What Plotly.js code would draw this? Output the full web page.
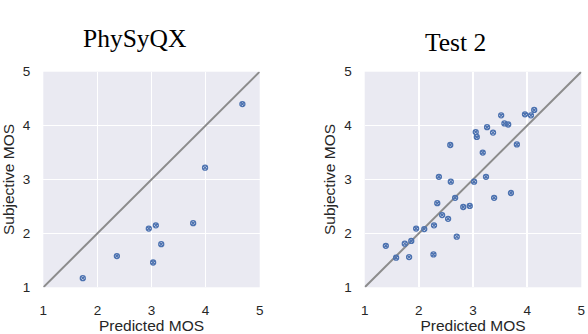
<!DOCTYPE html>
<html>
<head>
<meta charset="utf-8">
<script src="https://cdn.plot.ly/plotly-3.0.1.min.js"></script>
<style>html,body{margin:0;padding:0;background:#fff;}#chart{width:588px;height:334px;}</style>
</head>
<body>
<div id="chart"></div>
<script>
// Panel titles
const panelTitles = ["PhySyQX", "Test 2"];
// PhySyQX: predicted vs subjective MOS
const physyPred = [1.73, 2.36, 2.95, 3.08, 3.18, 3.03, 3.77, 3.99, 4.68];
const physySubj = [1.17, 1.58, 2.09, 2.15, 1.80, 1.46, 2.19, 3.22, 4.40];
// Test 2: predicted vs subjective MOS
const test2Pred = [1.39, 1.58, 1.74, 1.86, 1.82, 1.95, 2.10, 2.27, 2.28, 2.34, 2.37, 2.43, 2.54, 2.58, 2.59, 2.67, 2.70, 2.82, 2.94, 3.02, 3.05, 3.07, 3.18, 3.24, 3.26, 3.37, 3.39, 3.52, 3.58, 3.65, 3.70, 3.81, 3.96, 4.07, 4.13];
const test2Subj = [1.77, 1.55, 1.81, 1.86, 1.56, 2.09, 2.08, 1.61, 2.15, 2.56, 3.05, 2.34, 2.27, 3.64, 2.96, 2.66, 1.94, 2.49, 2.51, 2.96, 3.88, 3.79, 3.50, 3.05, 3.97, 3.87, 2.66, 4.19, 4.04, 4.02, 2.75, 3.65, 4.21, 4.19, 4.29];
// Identity line and ticks
const identityLine = [1, 5];
const tickVals = [1, 2, 3, 4, 5];
const tickText = ["1", "2", "3", "4", "5"];
const xTitle = "Predicted MOS";
const yTitle = "Subjective MOS";

const pointColor = "#4c72b0";
const lineColor = "#8c8c8c";

function lineTrace(xa, ya) {
  return {x: identityLine, y: identityLine, xaxis: xa, yaxis: ya, mode: "lines",
    line: {color: lineColor, width: 2}, hoverinfo: "skip", showlegend: false};
}
function pointTrace(xs, ys, xa, ya) {
  return {x: xs, y: ys, xaxis: xa, yaxis: ya, mode: "markers", type: "scatter",
    marker: {symbol: "circle-x-open", size: 5, color: pointColor, line: {width: 1.3, color: pointColor}},
    showlegend: false};
}

const data = [
  lineTrace("x", "y"), pointTrace(physyPred, physySubj, "x", "y"),
  lineTrace("x2", "y2"), pointTrace(test2Pred, test2Subj, "x2", "y2")
];

const tickFont = {family: "Liberation Sans, Arial, sans-serif", size: 13.5, color: "#262626"};
const titleFont = {family: "Liberation Sans, Arial, sans-serif", size: 15.5, color: "#262626"};

function xAxis(domain, anchor) {
  return {domain: domain, anchor: anchor, range: [1, 5], tickvals: tickVals, ticktext: tickText,
    showgrid: true, gridcolor: "#ffffff", gridwidth: 1.5, zeroline: false, showline: false,
    ticks: "", tickfont: tickFont, ticklabelstandoff: 13,
    title: {text: xTitle, font: titleFont, standoff: 0}, fixedrange: true};
}
function yAxis(domain, anchor) {
  return {domain: domain, anchor: anchor, range: [1, 5], tickvals: tickVals, ticktext: tickText,
    showgrid: true, gridcolor: "#ffffff", gridwidth: 1.5, zeroline: false, showline: false,
    ticks: "", tickfont: tickFont, ticklabelstandoff: 12,
    title: {text: yTitle, font: titleFont, standoff: 4}, fixedrange: true};
}

const yDom = [1 - 287.3 / 334, 1 - 71.7 / 334];
const layout = {
  width: 588, height: 334,
  margin: {l: 0, r: 0, t: 0, b: 0},
  paper_bgcolor: "#ffffff", plot_bgcolor: "#eaeaf2",
  showlegend: false,
  xaxis: xAxis([43.3 / 588, 259.7 / 588], "y"),
  yaxis: yAxis(yDom, "x"),
  xaxis2: xAxis([364.7 / 588, 581.3 / 588], "y2"),
  yaxis2: yAxis(yDom, "x2"),
  annotations: [
    {text: panelTitles[0], xref: "paper", yref: "paper", x: 134 / 588, y: 1 - 55 / 334, xanchor: "center", yanchor: "bottom",
      showarrow: false, font: {family: "Liberation Serif, Times New Roman, serif", size: 25.5, color: "#000000"}},
    {text: panelTitles[1], xref: "paper", yref: "paper", x: 455 / 588, y: 1 - 59 / 334, xanchor: "center", yanchor: "bottom",
      showarrow: false, font: {family: "Liberation Serif, Times New Roman, serif", size: 25.5, color: "#000000"}}
  ]
};

Plotly.newPlot("chart", data, layout, {displayModeBar: false, staticPlot: true});
</script>
</body>
</html>
